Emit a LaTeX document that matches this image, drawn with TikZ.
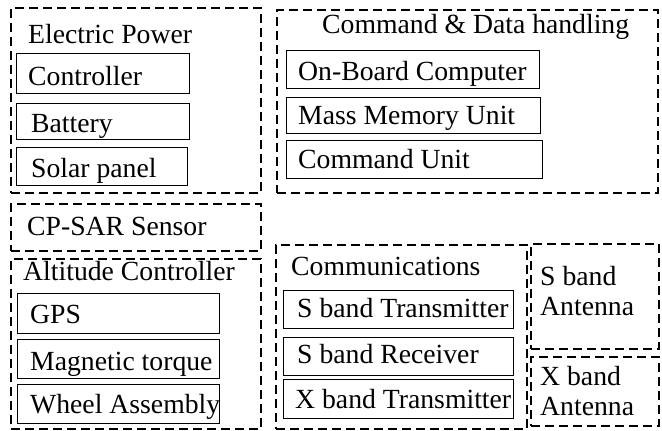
\documentclass[tikz,border=0pt]{standalone}
\usepackage{fontspec}
\setmainfont{Liberation Serif}
\begin{document}
\begin{tikzpicture}[x=1pt,y=-1pt,
  every node/.style={font=\fontsize{27.7}{30}\selectfont},
  group/.style={draw, line width=1.6pt, dash pattern=on 9pt off 5pt, anchor=north west, inner sep=0pt},
  item/.style={draw, line width=1.4pt, anchor=north west, inner sep=0pt},
  title/.style={anchor=base west, inner sep=0pt}]
\useasboundingbox (0,0) rectangle (662,431);
% Electric Power
\node[group, minimum width=250pt, minimum height=185pt] (ep) at (10,7) {};
\node[title] (ept) at (28,43) {Electric Power};
\node[item, minimum width=173pt, minimum height=40pt] (ctrl) at (16,53) {};
\node[title] (ctrlt) at (28,85) {Controller};
\node[item, minimum width=173pt, minimum height=36pt] (bat) at (16,103) {};
\node[title] (batt) at (31,132) {Battery};
\node[item, minimum width=171pt, minimum height=38pt] (sol) at (16,147) {};
\node[title] (solt) at (31,177) {Solar panel};
% Command & Data handling
\node[group, minimum width=381pt, minimum height=183pt] (cdh) at (276,9) {};
\node[title] (cdht) at (322,34) {Command \& Data handling};
\node[item, minimum width=253pt, minimum height=38pt] (obc) at (286,50) {};
\node[title] (obct) at (298,80) {On-Board Computer};
\node[item, minimum width=254pt, minimum height=36pt] (mmu) at (286,97) {};
\node[title] (mmut) at (298,124) {Mass Memory Unit};
\node[item, minimum width=256pt, minimum height=38pt] (cu) at (286,140) {};
\node[title] (cut) at (298,168) {Command Unit};
% CP-SAR
\node[group, minimum width=250pt, minimum height=47pt] (sar) at (10,203) {};
\node[title] (sart) at (27,235) {CP-SAR Sensor};
% Altitude Controller
\node[group, minimum width=250pt, minimum height=170pt] (att) at (10,258) {};
\node[title] (attt) at (23,280) {Altitude Controller};
\node[item, minimum width=202pt, minimum height=40pt] (gps) at (17,293) {};
\node[title] (gpst) at (30,323) {GPS};
\node[item, minimum width=202pt, minimum height=39pt] (mag) at (17,339) {};
\node[title] (magt) at (30,370) {Magnetic torque};
\node[item, minimum width=202pt, minimum height=39pt] (whl) at (17,384) {};
\node[title] (whlt) at (30,413) {Wheel Assembly};
% Communications
\node[group, minimum width=251pt, minimum height=184pt] (com) at (275,244) {};
\node[title] (comt) at (291,275) {Communications};
\node[item, minimum width=230pt, minimum height=38pt] (sbt) at (283,290) {};
\node[title] (sbtt) at (297,317) {S band Transmitter};
\node[item, minimum width=230pt, minimum height=38pt] (sbr) at (283,337) {};
\node[title] (sbrt) at (297,363) {S band Receiver};
\node[item, minimum width=230pt, minimum height=39pt] (xbt) at (283,379) {};
\node[title] (xbtt) at (295,408) {X band Transmitter};
% Antennas
\node[group, minimum width=128pt, minimum height=105pt] (sant) at (530,243) {};
\node[title] (santa) at (540,285) {S band};
\node[title] (santb) at (540,315) {Antenna};
\node[group, minimum width=128pt, minimum height=69pt] (xant) at (530,356) {};
\node[title] (xanta) at (540,385) {X band};
\node[title] (xantb) at (540,415) {Antenna};
\end{tikzpicture}
\end{document}
